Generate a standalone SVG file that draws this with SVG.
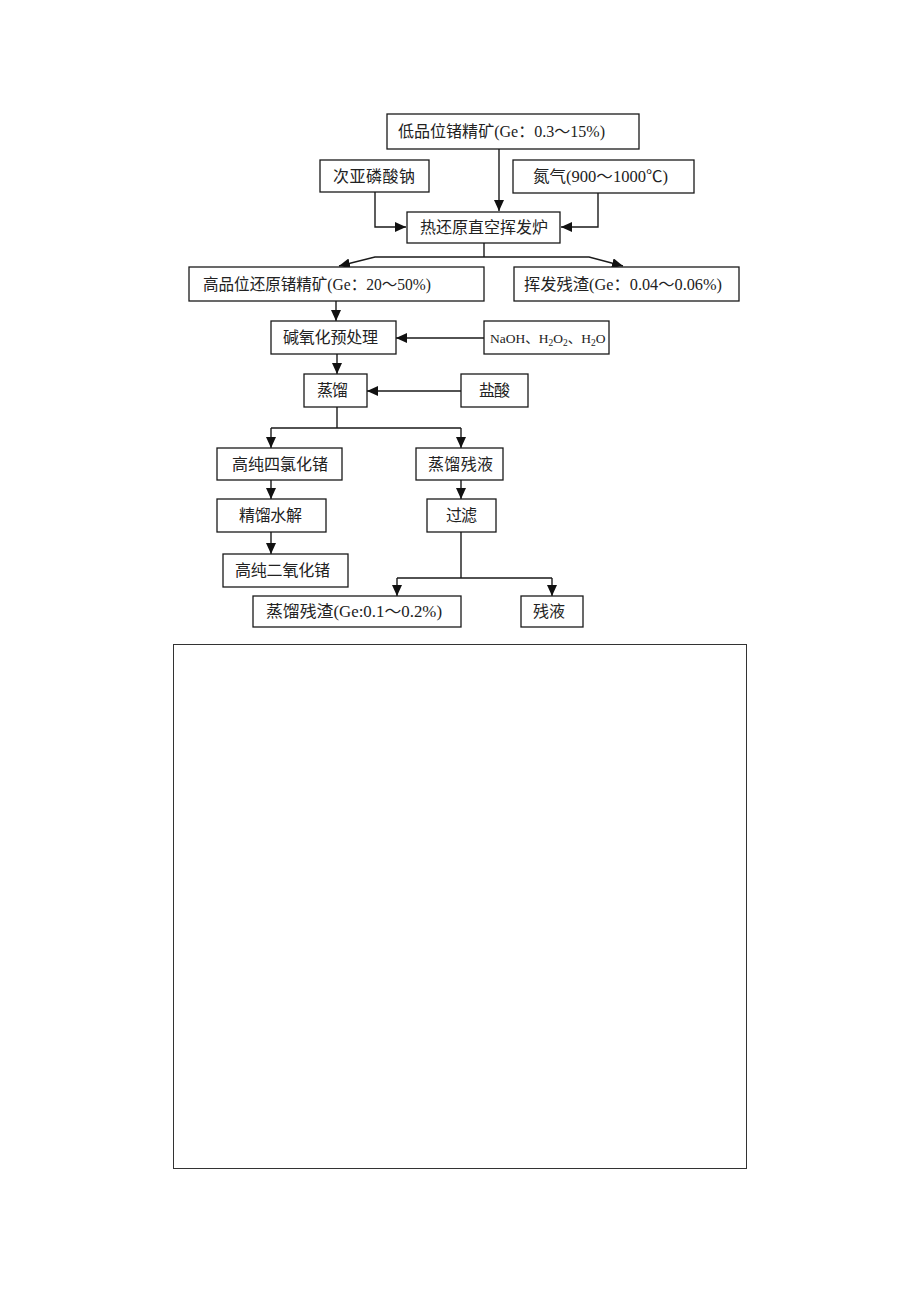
<svg xmlns="http://www.w3.org/2000/svg" width="920" height="1302" viewBox="0 0 920 1302">
<style>
.box{fill:#fff;stroke:#1a1a1a;stroke-width:1.3}
.t{font-family:'Liberation Serif','Noto Sans CJK SC',serif;font-size:16px;fill:#222}
.s{font-family:'Liberation Serif','Noto Sans CJK SC',serif;font-size:13.5px;fill:#222}
.c{fill:none;stroke:#1a1a1a;stroke-width:1.4}
</style>
<defs>
<marker id="ah" markerUnits="userSpaceOnUse" markerWidth="12" markerHeight="10" refX="11" refY="5" orient="auto">
<path d="M0,0 L11,5 L0,10 z" fill="#111"/>
</marker>
</defs>
<rect width="920" height="1302" fill="#fff"/>
<g id="connectors">
<path class="c" d="M499,149 V211" marker-end="url(#ah)"/>
<path class="c" d="M375,192 V227 H406" marker-end="url(#ah)"/>
<path class="c" d="M598,193 V227 H561" marker-end="url(#ah)"/>
<path class="c" d="M484,243 V257"/>
<path class="c" d="M484,257 H375 L339,266" marker-end="url(#ah)"/>
<path class="c" d="M484,257 H589 L623,266" marker-end="url(#ah)"/>
<path class="c" d="M336,301 V321" marker-end="url(#ah)"/>
<path class="c" d="M484,338 H396" marker-end="url(#ah)"/>
<path class="c" d="M337,354 V374" marker-end="url(#ah)"/>
<path class="c" d="M461,391 H367" marker-end="url(#ah)"/>
<path class="c" d="M337,407 V428 M271,428 H461"/>
<path class="c" d="M271,428 V448" marker-end="url(#ah)"/>
<path class="c" d="M461,428 V448" marker-end="url(#ah)"/>
<path class="c" d="M271,480 V499" marker-end="url(#ah)"/>
<path class="c" d="M271,532 V554" marker-end="url(#ah)"/>
<path class="c" d="M461,480 V499" marker-end="url(#ah)"/>
<path class="c" d="M461,532 V578 M397,578 H552"/>
<path class="c" d="M397,578 V596" marker-end="url(#ah)"/>
<path class="c" d="M552,578 V596" marker-end="url(#ah)"/>
</g>
<g id="n1"><rect class="box" x="387" y="114" width="252" height="35"/><text class="t" x="398" y="137" textLength="207" lengthAdjust="spacingAndGlyphs">低品位锗精矿(Ge：0.3～15%)</text></g>
<g id="n2"><rect class="box" x="320" y="160" width="109" height="32"/><text class="t" x="333" y="182" textLength="82">次亚磷酸钠</text></g>
<g id="n3"><rect class="box" x="513" y="160" width="181" height="33"/><text class="t" x="533" y="182" textLength="135" lengthAdjust="spacingAndGlyphs">氮气(900～1000℃)</text></g>
<g id="n4"><rect class="box" x="407" y="212" width="153" height="31"/><text class="t" x="420" y="233" textLength="128">热还原直空挥发炉</text></g>
<g id="n5"><rect class="box" x="189" y="267" width="295" height="34"/><text class="t" x="203" y="290" textLength="228" lengthAdjust="spacingAndGlyphs">高品位还原锗精矿(Ge：20～50%)</text></g>
<g id="n6"><rect class="box" x="514" y="267" width="225" height="34"/><text class="t" x="524" y="290" textLength="198" lengthAdjust="spacingAndGlyphs">挥发残渣(Ge：0.04～0.06%)</text></g>
<g id="n7"><rect class="box" x="271" y="321" width="125" height="33"/><text class="t" x="283" y="343" textLength="95">碱氧化预处理</text></g>
<g id="n8"><rect class="box" x="484" y="321" width="125" height="33"/><text class="s" x="490" y="343">NaOH、H<tspan dy="3" font-size="9.5">2</tspan><tspan dy="-3">O</tspan><tspan dy="3" font-size="9.5">2</tspan><tspan dy="-3">、H</tspan><tspan dy="3" font-size="9.5">2</tspan><tspan dy="-3">O</tspan></text></g>
<g id="n9"><rect class="box" x="304" y="374" width="63" height="33"/><text class="t" x="317" y="396" textLength="31">蒸馏</text></g>
<g id="n10"><rect class="box" x="461" y="374" width="67" height="33"/><text class="t" x="479" y="396" textLength="31">盐酸</text></g>
<g id="n11"><rect class="box" x="217" y="448" width="125" height="32"/><text class="t" x="232" y="470" textLength="96">高纯四氯化锗</text></g>
<g id="n12"><rect class="box" x="416" y="448" width="87" height="32"/><text class="t" x="428" y="470" textLength="65">蒸馏残液</text></g>
<g id="n13"><rect class="box" x="217" y="499" width="109" height="33"/><text class="t" x="239" y="521" textLength="63">精馏水解</text></g>
<g id="n14"><rect class="box" x="427" y="499" width="69" height="33"/><text class="t" x="446" y="521" textLength="31">过滤</text></g>
<g id="n15"><rect class="box" x="223" y="554" width="125" height="33"/><text class="t" x="235" y="576" textLength="95">高纯二氧化锗</text></g>
<g id="n16"><rect class="box" x="253" y="596" width="208" height="31"/><text class="t" x="266" y="617" textLength="176" lengthAdjust="spacingAndGlyphs">蒸馏残渣(Ge:0.1～0.2%)</text></g>
<g id="n17"><rect class="box" x="521" y="596" width="62" height="31"/><text class="t" x="533" y="617" textLength="32">残液</text></g>
<g id="frame"><rect x="173.5" y="644.5" width="573" height="524" fill="none" stroke="#333" stroke-width="1"/></g>
</svg>
